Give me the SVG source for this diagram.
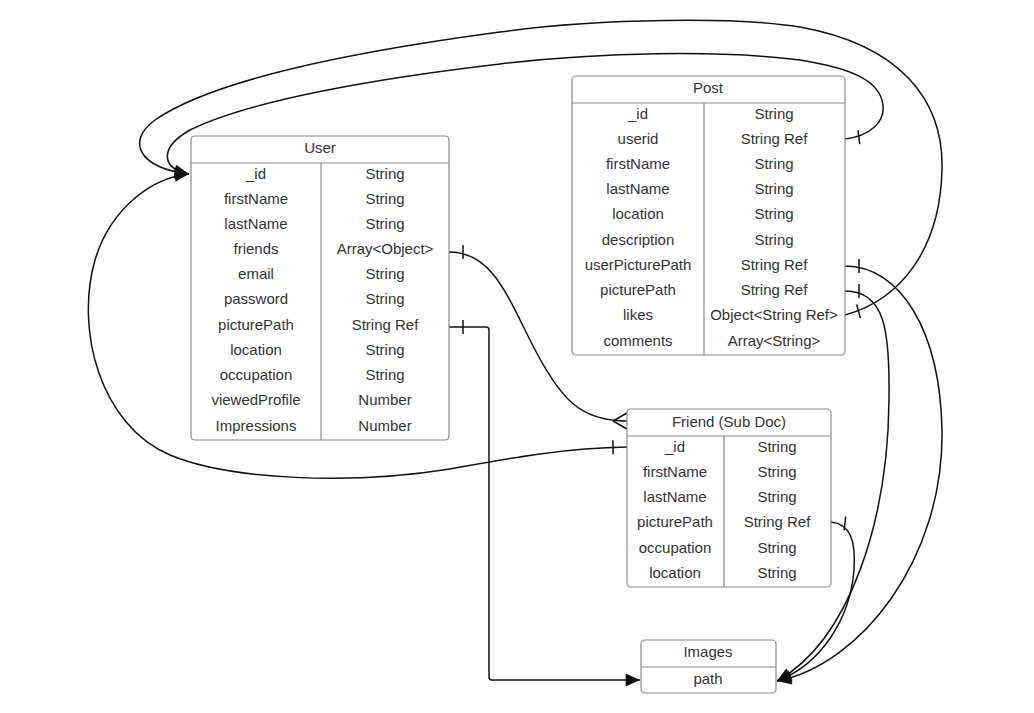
<svg xmlns="http://www.w3.org/2000/svg" width="1034" height="713" viewBox="0 0 1034 713">
<style>
.box{fill:#fff;stroke:#8a8a8a;stroke-width:1.2}
.sep{stroke:#8a8a8a;stroke-width:1.2}
.t{font-family:"Liberation Sans",Arial,sans-serif;font-size:15px;fill:#333;text-anchor:middle}
.c{fill:none;stroke:#111;stroke-width:1.5}
</style>
<defs>
<marker id="arr" markerUnits="userSpaceOnUse" markerWidth="20" markerHeight="20" viewBox="-12 -6 14 12" refX="0" refY="0" orient="auto">
<path d="M0,0 L-10,-4.5 L-10,4.5 Z" fill="#111"/>
</marker>
<marker id="tick" markerUnits="userSpaceOnUse" markerWidth="20" markerHeight="20" viewBox="0 -8 20 16" refX="0" refY="0" orient="auto">
<path d="M14,-7 L14,7" stroke="#111" stroke-width="1.5"/>
</marker>
</defs>
<rect width="1034" height="713" fill="#fff"/>

<g id="connectors">
<path class="c" marker-start="url(#tick)" marker-end="url(#arr)" d="M845,139 C 870,136 885,122 883,105 C 880,80 850,68 800,60 C 720,50 600,52 500,64 C 380,78 250,100 190,130 C 160,147 160,168 189,174"/>
<path class="c" marker-start="url(#tick)" marker-end="url(#arr)" d="M845,315 C 900,300 940,250 942,170 C 944,100 900,45 800,27 C 740,17 600,18 500,32 C 380,48 220,75 155,120 C 125,142 140,168 189,174"/>
<path class="c" marker-start="url(#tick)" marker-end="url(#arr)" d="M627,447 C 560,448 500,460 450,469 C 350,485 230,480 170,455 C 100,425 75,330 95,260 C 110,210 150,178 189,174"/>
<path class="c" marker-start="url(#tick)" d="M449,252 C 490,252 505,290 530,340 C 560,400 580,421 627,421"/>
<path class="c" d="M613,421 L627,413 M613,421 L627,429"/>
<path class="c" marker-start="url(#tick)" marker-end="url(#arr)" d="M449,327 H486 Q489,327 489,330 V677 Q489,680 492,680 H640"/>
<path class="c" marker-start="url(#tick)" marker-end="url(#arr)" d="M845,266 C 900,266 940,330 942,430 C 944,560 860,665 777,681"/>
<path class="c" marker-start="url(#tick)" marker-end="url(#arr)" d="M845,291 C 885,291 890,330 889,400 C 888,520 850,640 777,681"/>
<path class="c" marker-start="url(#tick)" marker-end="url(#arr)" d="M831,522 C 850,524 856,540 854,570 C 850,620 820,665 777,681"/>
</g>

<g id="user">
<rect class="box" x="191" y="136" width="258" height="304" rx="4"/>
<line class="sep" x1="191" y1="163" x2="449" y2="163"/>
<line class="sep" x1="321" y1="163" x2="321" y2="440"/>
<text class="t" x="320" y="153">User</text>
<text class="t" x="256" y="179">_id</text><text class="t" x="385" y="179">String</text>
<text class="t" x="256" y="204">firstName</text><text class="t" x="385" y="204">String</text>
<text class="t" x="256" y="229">lastName</text><text class="t" x="385" y="229">String</text>
<text class="t" x="256" y="254">friends</text><text class="t" x="385" y="254">Array&lt;Object&gt;</text>
<text class="t" x="256" y="279">email</text><text class="t" x="385" y="279">String</text>
<text class="t" x="256" y="304">password</text><text class="t" x="385" y="304">String</text>
<text class="t" x="256" y="330">picturePath</text><text class="t" x="385" y="330">String Ref</text>
<text class="t" x="256" y="355">location</text><text class="t" x="385" y="355">String</text>
<text class="t" x="256" y="380">occupation</text><text class="t" x="385" y="380">String</text>
<text class="t" x="256" y="405">viewedProfile</text><text class="t" x="385" y="405">Number</text>
<text class="t" x="256" y="431">Impressions</text><text class="t" x="385" y="431">Number</text>
</g>

<g id="post">
<rect class="box" x="572" y="76" width="273" height="279" rx="4"/>
<line class="sep" x1="572" y1="103" x2="845" y2="103"/>
<line class="sep" x1="704" y1="103" x2="704" y2="355"/>
<text class="t" x="708" y="93">Post</text>
<text class="t" x="638" y="119">_id</text><text class="t" x="774" y="119">String</text>
<text class="t" x="638" y="144">userid</text><text class="t" x="774" y="144">String Ref</text>
<text class="t" x="638" y="169">firstName</text><text class="t" x="774" y="169">String</text>
<text class="t" x="638" y="194">lastName</text><text class="t" x="774" y="194">String</text>
<text class="t" x="638" y="219">location</text><text class="t" x="774" y="219">String</text>
<text class="t" x="638" y="245">description</text><text class="t" x="774" y="245">String</text>
<text class="t" x="638" y="270">userPicturePath</text><text class="t" x="774" y="270">String Ref</text>
<text class="t" x="638" y="295">picturePath</text><text class="t" x="774" y="295">String Ref</text>
<text class="t" x="638" y="320">likes</text><text class="t" x="774" y="320">Object&lt;String Ref&gt;</text>
<text class="t" x="638" y="346">comments</text><text class="t" x="774" y="346">Array&lt;String&gt;</text>
</g>

<g id="friend">
<rect class="box" x="627" y="409" width="204" height="178" rx="4"/>
<line class="sep" x1="627" y1="436" x2="831" y2="436"/>
<line class="sep" x1="724" y1="436" x2="724" y2="587"/>
<text class="t" x="729" y="427">Friend (Sub Doc)</text>
<text class="t" x="675" y="452">_id</text><text class="t" x="777" y="452">String</text>
<text class="t" x="675" y="477">firstName</text><text class="t" x="777" y="477">String</text>
<text class="t" x="675" y="502">lastName</text><text class="t" x="777" y="502">String</text>
<text class="t" x="675" y="527">picturePath</text><text class="t" x="777" y="527">String Ref</text>
<text class="t" x="675" y="553">occupation</text><text class="t" x="777" y="553">String</text>
<text class="t" x="675" y="578">location</text><text class="t" x="777" y="578">String</text>
</g>

<g id="images">
<rect class="box" x="641" y="640" width="135" height="53" rx="4"/>
<line class="sep" x1="641" y1="667" x2="776" y2="667"/>
<text class="t" x="708" y="657">Images</text>
<text class="t" x="708" y="684">path</text>
</g>
</svg>
